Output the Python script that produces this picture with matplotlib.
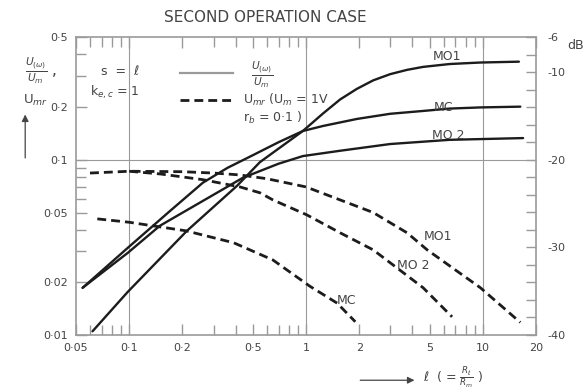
import numpy as np
import matplotlib
matplotlib.use("Agg")
import matplotlib.pyplot as plt
from matplotlib.ticker import FixedLocator, NullFormatter, LogLocator

plt.rcParams['font.family'] = ['DejaVu Sans']
plt.rcParams['mathtext.fontset'] = 'dejavusans'

# --- データ ---
# 実線 U(w)/Um
mo1_x = [0.062, 0.098, 0.212, 0.407, 0.549, 0.96, 1.25, 1.56, 1.94, 2.4, 2.99,
         3.73, 4.6, 6.5, 9.7, 16.0]
mo1_y = [0.0105, 0.0176, 0.0393, 0.071, 0.097, 0.146, 0.184, 0.221, 0.254, 0.284,
         0.308, 0.326, 0.339, 0.352, 0.359, 0.363]
mc_x = [0.0545, 0.098, 0.17, 0.261, 0.36, 0.48, 0.7, 0.96, 1.25, 1.94, 2.99, 4.6, 6.5,
        9.7, 16.3]
mc_y = [0.0186, 0.0314, 0.051, 0.074, 0.090, 0.104, 0.126, 0.146, 0.156, 0.171, 0.183,
        0.190, 0.196, 0.199, 0.201]
mo2_x = [0.0545, 0.098, 0.149, 0.44, 0.7, 0.96, 1.56, 2.99, 6.5, 16.9]
mo2_y = [0.0186, 0.0294, 0.042, 0.079, 0.095, 0.105, 0.1126, 0.123, 0.130, 0.133]

# 破線 Umr
mo1d_x = [0.06, 0.1, 0.2, 0.3, 0.42, 0.6, 1.0, 1.56, 2.4, 3.73, 4.85, 9.7, 16.3]
mo1d_y = [0.084, 0.086, 0.0855, 0.084, 0.082, 0.078, 0.070, 0.059, 0.050, 0.0383, 0.0306,
          0.0186, 0.0118]
mo2d_x = [0.1, 0.15, 0.261, 0.423, 0.549, 0.65, 1.01, 1.56, 2.4, 4.6, 6.7]
mo2d_y = [0.086, 0.083, 0.077, 0.070, 0.0648, 0.059, 0.0485, 0.0383, 0.0306, 0.0186, 0.0127]
mcd_x = [0.066, 0.1, 0.21, 0.39, 0.65, 1.05, 1.5, 1.9]
mcd_y = [0.046, 0.044, 0.0393, 0.0336, 0.0268, 0.019, 0.0152, 0.0119]

# 目盛り
x_ticks = [0.05, 0.1, 0.2, 0.5, 1, 2, 5, 10, 20]
x_labels = ['0·05', '0·1', '0·2', '0·5', '1', '2', '5', '10', '20']
y_ticks = [0.01, 0.02, 0.05, 0.1, 0.2, 0.5]
y_labels = ['0·01', '0·02', '0·05', '0·1', '0·2', '0·5']
db_ticks = [-6, -10, -20, -30, -40]
db_labels = ['-6', '-10', '-20', '-30', '-40']

TXT = '#444444'
LINE = '#1c1c1c'
GRID = '#9a9a9a'
DASH = (3.2, 1.8)

fig = plt.figure(figsize=(5.86, 3.92), dpi=100)
ax = fig.add_axes([0.1297, 0.1454, 0.785, 0.7602])
ax.set_xscale('log')
ax.set_yscale('log')
ax.set_xlim(0.05, 20)
ax.set_ylim(0.01, 0.502)

# 格子 (デケードのみ)
for gx in [0.1, 1, 10]:
    ax.axvline(gx, color=GRID, lw=0.8, zorder=0)
ax.axhline(0.1, color=GRID, lw=0.8, zorder=0)

# 曲線
for xs, ys in [(mo1_x, mo1_y), (mc_x, mc_y), (mo2_x, mo2_y)]:
    ax.plot(xs, ys, color=LINE, lw=1.7, solid_capstyle='round', solid_joinstyle='round')
for xs, ys in [(mo1d_x, mo1d_y), (mo2d_x, mo2d_y), (mcd_x, mcd_y)]:
    ax.plot(xs, ys, color=LINE, lw=2.0, dashes=DASH)

# 軸の体裁
for sp in ax.spines.values():
    sp.set_color(GRID)
    sp.set_linewidth(1.2)
ax.xaxis.set_major_locator(FixedLocator(x_ticks))
ax.set_xticklabels(x_labels)
ax.xaxis.set_minor_locator(LogLocator(base=10, subs=np.arange(2, 10)))
ax.xaxis.set_minor_formatter(NullFormatter())
ax.yaxis.set_major_locator(FixedLocator(y_ticks))
ax.set_yticklabels(y_labels)
ax.yaxis.set_minor_locator(LogLocator(base=10, subs=np.arange(2, 10)))
ax.yaxis.set_minor_formatter(NullFormatter())
ax.tick_params(which='both', direction='in', color=GRID, top=True, right=False,
               labelcolor=TXT, labelsize=8, width=1.0)
ax.tick_params(which='major', length=8, pad=6)
ax.tick_params(which='minor', length=7)

ax2 = ax.twinx()
ax2.set_yscale('log')
ax2.set_ylim(ax.get_ylim())
ax2.yaxis.set_major_locator(FixedLocator([10 ** (d / 20) for d in db_ticks]))
ax2.set_yticklabels(db_labels)
ax2.yaxis.set_minor_locator(FixedLocator([10 ** (d / 20) for d in range(-38, -6, 2)]))
ax2.yaxis.set_minor_formatter(NullFormatter())
ax2.tick_params(which='both', direction='in', color=GRID, labelcolor=TXT,
                labelsize=8, width=1.0, pad=8)
ax2.tick_params(which='major', length=7)
ax2.tick_params(which='minor', length=7)
for sp in ax2.spines.values():
    sp.set_visible(False)

# 曲線ラベル
lab = dict(transform=ax.transAxes, color=TXT, fontsize=9, ha='center', va='center')
ax.text(0.807, 0.935, 'MO1', **lab)
ax.text(0.798, 0.762, 'MC', **lab)
ax.text(0.809, 0.671, 'MO 2', **lab)
ax.text(0.787, 0.329, 'MO1', **lab)
ax.text(0.733, 0.232, 'MO 2', **lab)
ax.text(0.589, 0.117, 'MC', **lab)

# 凡例 (手書き)
ax.plot([0.226, 0.341], [0.879, 0.879], transform=ax.transAxes, color=GRID, lw=1.6)
ax.plot([0.226, 0.341], [0.789, 0.789], transform=ax.transAxes, color=LINE, lw=2.0,
        dashes=DASH)
ax.text(0.405, 0.875, r'$\frac{U_{(\omega)}}{U_m}$', transform=ax.transAxes,
        color=TXT, fontsize=11, ha='center', va='center')
ax.text(0.362, 0.789, r'U$_{mr}$ (U$_m$ = 1V', transform=ax.transAxes,
        color=TXT, fontsize=9, ha='left', va='center')
ax.text(0.362, 0.728, r'r$_b$ = 0·1 )', transform=ax.transAxes,
        color=TXT, fontsize=9, ha='left', va='center')
ax.text(0.096, 0.883, 's  =  ℓ', transform=ax.transAxes, color=TXT, fontsize=9,
        ha='center', va='center')
ax.text(0.085, 0.815, r'k$_{e,c}$ = 1', transform=ax.transAxes, color=TXT,
        fontsize=9, ha='center', va='center')

# 図のテキスト
fig.text(0.452, 0.955, 'SECOND OPERATION CASE', color=TXT, fontsize=11,
         ha='center', va='center')
fig.text(0.07, 0.82, r'$\frac{U_{(\omega)}}{U_m}$ ,', color=TXT, fontsize=11,
         ha='center', va='center')
fig.text(0.06, 0.745, r'U$_{mr}$', color=TXT, fontsize=9.5, ha='center', va='center')
ax.annotate('', xy=(0.043, 0.715), xytext=(0.043, 0.59), xycoords='figure fraction',
            textcoords='figure fraction', annotation_clip=False,
            arrowprops=dict(arrowstyle='-|>', color=TXT, lw=0.9, mutation_scale=10))
fig.text(0.982, 0.885, 'dB', color=TXT, fontsize=9, ha='center', va='center')
ax.annotate('', xy=(0.712, 0.03), xytext=(0.61, 0.03), xycoords='figure fraction',
            textcoords='figure fraction', annotation_clip=False,
            arrowprops=dict(arrowstyle='-|>', color=TXT, lw=0.9, mutation_scale=10))
fig.text(0.722, 0.038, r'ℓ  ( = $\frac{R_\ell}{R_m}$ )', color=TXT, fontsize=9,
         ha='left', va='center')

fig.savefig('out.png', dpi=100)
